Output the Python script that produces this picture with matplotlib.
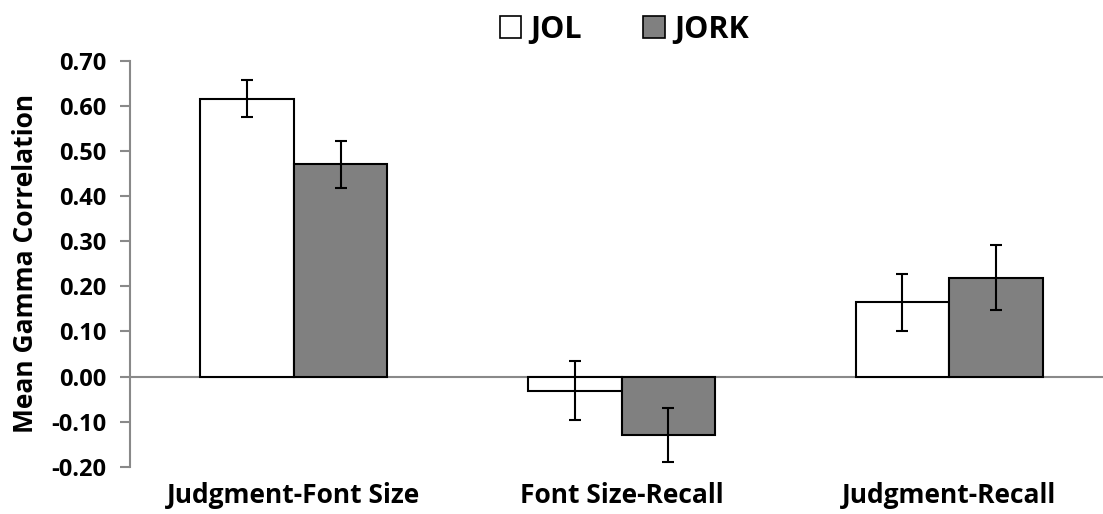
import numpy as np
import matplotlib
matplotlib.use('Agg')
import matplotlib.pyplot as plt
from matplotlib.patches import Patch

plt.rcParams['font.family'] = ['Open Sans', 'DejaVu Sans']
plt.rcParams['font.weight'] = 'bold'

# gamma correlations per condition
categories = ['Judgment-Font Size', 'Font Size-Recall', 'Judgment-Recall']
jol = [0.616, -0.031, 0.165]
jork = [0.471, -0.130, 0.219]
jol_err = [0.041, 0.065, 0.063]
jork_err = [0.052, 0.060, 0.072]

grey = '#898989'

fig = plt.figure(figsize=(11.03, 5.14), dpi=100)
ax = fig.add_axes([130 / 1103, 1 - 466.7 / 514, 983 / 1103, 405.7 / 514])

x = np.arange(len(categories))
w = 0.285
ax.bar(x - w / 2, jol, w, color='white', edgecolor='black', linewidth=1.5, zorder=2)
ax.bar(x + w / 2, jork, w, color='#808080', edgecolor='black', linewidth=1.5, zorder=2)
ax.errorbar(x - w / 2, jol, yerr=jol_err, fmt='none', ecolor='black',
            elinewidth=1.5, capsize=4.5, capthick=1.5, zorder=3)
ax.errorbar(x + w / 2, jork, yerr=jork_err, fmt='none', ecolor='black',
            elinewidth=1.5, capsize=4.5, capthick=1.5, zorder=3)

ax.axhline(0, color=grey, linewidth=1.5, zorder=1)

ax.set_xlim(-0.5, 2.5)
ax.set_ylim(-0.2, 0.7)
ticks = np.arange(-0.2, 0.71, 0.1)
ax.set_yticks(ticks)
ax.set_yticklabels([f'{v:.2f}' for v in ticks], fontsize=17, fontweight='bold')
ax.set_xticks(x)
ax.set_xticklabels(categories, fontsize=19, fontweight='bold')
ax.tick_params(axis='x', length=0, pad=11)
ax.tick_params(axis='y', length=7, width=1.5, color=grey, pad=10)

for s in ['top', 'right', 'bottom']:
    ax.spines[s].set_visible(False)
ax.spines['left'].set_color(grey)
ax.spines['left'].set_linewidth(1.5)

ax.set_ylabel('Mean Gamma Correlation', fontsize=19, fontweight='bold', labelpad=9)

handles = [Patch(facecolor='white', edgecolor='black', linewidth=1.2, label='JOL'),
           Patch(facecolor='#808080', edgecolor='black', linewidth=1.2, label='JORK')]
fig.legend(handles=handles, loc='upper center', bbox_to_anchor=(0.566, 1.025), ncol=2,
           frameon=False, prop={'size': 22, 'weight': 'bold'}, handlelength=0.7,
           handleheight=0.7, handletextpad=0.3, columnspacing=2.0)

fig.savefig('out.png', dpi=100)
